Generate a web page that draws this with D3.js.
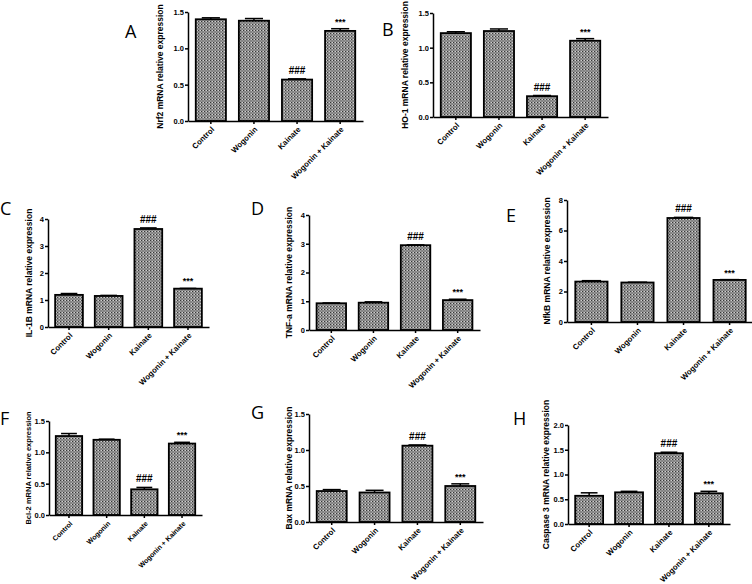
<!DOCTYPE html>
<html>
<head>
<meta charset="utf-8">
<script src="https://cdn.jsdelivr.net/npm/d3@7"></script>
<style>
  body { margin: 0; background: #fff; }
  svg { display: block; }
  .axis path, .axis line { stroke: #000; stroke-width: 1.5; }
  .axis text { font-family: "Liberation Sans", Arial, sans-serif; font-weight: bold; font-size: 7.5px; fill: #000; }
  .ytitle { font-family: "Liberation Sans", Arial, sans-serif; font-weight: bold; font-size: 8.5px; }
  .letter { font-family: "Open Sans", sans-serif; font-size: 18px; }
  .mark { font-family: "Liberation Sans", Arial, sans-serif; font-weight: bold; }
</style>
</head>
<body>
<div id="chart"></div>
<script>
// categorias comunes
const groups = ["Control", "Wogonin", "Kainate", "Wogonin + Kainate"]

// valores (media y error)
const nrf2 = [1.40, 1.38, 0.57, 1.24]
const nrf2Err = [0.02, 0.03, 0.01, 0.03]
const ho1 = [1.21, 1.24, 0.30, 1.10]
const ho1Err = [0.02, 0.03, 0.01, 0.03]
const il1b = [1.19, 1.15, 3.63, 1.42]
const il1bErr = [0.05, 0.02, 0.04, 0.01]
const tnfa = [0.93, 0.95, 2.95, 1.04]
const tnfaErr = [0.01, 0.03, 0.01, 0.03]
const nfkb = [2.65, 2.59, 6.82, 2.76]
const nfkbErr = [0.06, 0.02, 0.04, 0.02]
const bcl2 = [1.26, 1.20, 0.41, 1.14]
const bcl2Err = [0.04, 0.01, 0.03, 0.02]
const bax = [0.43, 0.41, 1.06, 0.50]
const baxErr = [0.02, 0.03, 0.01, 0.03]
const casp3 = [0.57, 0.64, 1.43, 0.62]
const casp3Err = [0.06, 0.02, 0.02, 0.04]

// marcas de significancia (indice de barra)
const hashIndex = 2
const starIndex = 3

// ticks del eje y
const ticks15 = [0, 0.5, 1.0, 1.5]
const ticks4 = [0, 1, 2, 3, 4]
const ticks8 = [0, 2, 4, 6, 8]
const ticks2 = [0, 0.5, 1.0, 1.5, 2.0]

const width = 752
const height = 584

const svg = d3.select("#chart").append("svg")
    .attr("width", width)
    .attr("height", height)

// patron punteado de las barras
const pat = svg.append("defs").append("pattern")
    .attr("id", "dots")
    .attr("width", 3).attr("height", 3)
    .attr("patternUnits", "userSpaceOnUse")
pat.append("rect").attr("width", 3).attr("height", 3).attr("fill", "#969696")
pat.append("rect").attr("x", 0).attr("y", 0).attr("width", 1).attr("height", 1).attr("fill", "#383838")
pat.append("rect").attr("x", 1.5).attr("y", 1.5).attr("width", 1).attr("height", 1).attr("fill", "#555")
pat.append("rect").attr("x", 2).attr("y", 0).attr("width", 1).attr("height", 1).attr("fill", "#d0d0d0")

// un panel por gen
const panels = [
    {letter: "A", title: "Nrf2 mRNA relative expression", vals: nrf2, errs: nrf2Err, ticks: ticks15, fmt: ".1f",
     x0: 188, x1: 363, y0: 121, yTop: 12, lx: 125, ly: 38, tx: 163},
    {letter: "B", title: "HO-1 mRNA relative expression", vals: ho1, errs: ho1Err, ticks: ticks15, fmt: ".1f",
     x0: 433, x1: 608, y0: 117, yTop: 13, lx: 382, ly: 36, tx: 408},
    {letter: "C", title: "IL-1B mRNA relative expression", vals: il1b, errs: il1bErr, ticks: ticks4, fmt: "d",
     x0: 48, x1: 209, y0: 327, yTop: 219, lx: 0, ly: 215, tx: 32},
    {letter: "D", title: "TNF-a mRNA relative expression", vals: tnfa, errs: tnfaErr, ticks: ticks4, fmt: "d",
     x0: 309, x1: 480, y0: 330, yTop: 215, lx: 251, ly: 215, tx: 292},
    {letter: "E", title: "NfkB mRNA relative expression", vals: nfkb, errs: nfkbErr, ticks: ticks8, fmt: "d",
     x0: 567, x1: 754, y0: 322, yTop: 200, lx: 506, ly: 222, tx: 550},
    {letter: "F", title: "Bcl-2 mRNA relative expression", vals: bcl2, errs: bcl2Err, ticks: ticks15, fmt: ".1f",
     x0: 49, x1: 202, y0: 515, yTop: 421, lx: 0, ly: 425, tx: 31, small: true},
    {letter: "G", title: "Bax mRNA relative expression", vals: bax, errs: baxErr, ticks: ticks15, fmt: ".1f",
     x0: 309, x1: 483, y0: 522, yTop: 414, lx: 251, ly: 419, tx: 292},
    {letter: "H", title: "Caspase 3 mRNA relative expression", vals: casp3, errs: casp3Err, ticks: ticks2, fmt: ".1f",
     x0: 568, x1: 730, y0: 524, yTop: 425, lx: 513, ly: 425, tx: 549}
]

panels.forEach(p => {
    const g = svg.append("g").attr("class", "panel")

    const x = d3.scaleBand().domain(groups).range([p.x0, p.x1])
        .paddingInner(0.3).paddingOuter(0.18)
    const y = d3.scaleLinear().domain([0, d3.max(p.ticks)]).range([p.y0, p.yTop])

    // barras
    g.selectAll(".bar").data(p.vals).enter().append("rect")
        .attr("class", "bar")
        .attr("x", (d, i) => x(groups[i]))
        .attr("y", d => y(d))
        .attr("width", x.bandwidth())
        .attr("height", d => y(0) - y(d))
        .attr("fill", "url(#dots)")
        .attr("stroke", "#000")
        .attr("stroke-width", 1.8)

    // barras de error (solo hacia arriba)
    const cx = i => x(groups[i]) + x.bandwidth() / 2
    g.selectAll(".err").data(p.vals).enter().append("line")
        .attr("x1", (d, i) => cx(i)).attr("x2", (d, i) => cx(i))
        .attr("y1", d => y(d)).attr("y2", (d, i) => y(d + p.errs[i]))
        .attr("stroke", "#000").attr("stroke-width", 1.5)
    g.selectAll(".cap").data(p.vals).enter().append("line")
        .attr("x1", (d, i) => cx(i) - x.bandwidth() * 0.3)
        .attr("x2", (d, i) => cx(i) + x.bandwidth() * 0.3)
        .attr("y1", (d, i) => y(d + p.errs[i])).attr("y2", (d, i) => y(d + p.errs[i]))
        .attr("stroke", "#000").attr("stroke-width", 1.5)

    // marcas ### y ***
    g.append("text").attr("class", "mark")
        .attr("x", cx(hashIndex))
        .attr("y", y(p.vals[hashIndex] + p.errs[hashIndex]) - 5)
        .attr("text-anchor", "middle")
        .attr("font-size", 10)
        .text("###")
    g.append("text").attr("class", "mark")
        .attr("x", cx(starIndex))
        .attr("y", y(p.vals[starIndex] + p.errs[starIndex]) - 4)
        .attr("text-anchor", "middle")
        .attr("font-size", 9)
        .text("***")

    // ejes
    const yAxis = d3.axisLeft(y).tickValues(p.ticks).tickFormat(d3.format(p.fmt))
        .tickSizeInner(3).tickSizeOuter(0).tickPadding(1)
    g.append("g").attr("class", "axis")
        .attr("transform", `translate(${p.x0}, 0)`)
        .call(yAxis)

    const xAxis = d3.axisBottom(x).tickSizeInner(3).tickSizeOuter(0)
    const xg = g.append("g").attr("class", "axis")
        .attr("transform", `translate(0, ${p.y0})`)
        .call(xAxis)
    xg.selectAll("text")
        .attr("text-anchor", "end")
        .attr("dy", 0)
        .attr("y", 0)
        .attr("transform", "translate(4, 9) rotate(-45)")
        .style("font-size", p.small ? "7px" : "7.8px")

    // titulo del eje y
    g.append("text").attr("class", "ytitle")
        .attr("transform", `translate(${p.tx}, ${(p.y0 + p.yTop) / 2}) rotate(-90)`)
        .attr("text-anchor", "middle")
        .style("font-size", p.small ? "7.5px" : "8.5px")
        .text(p.title)

    // letra del panel
    g.append("text").attr("class", "letter")
        .attr("x", p.lx).attr("y", p.ly)
        .text(p.letter)
})
</script>
</body>
</html>
